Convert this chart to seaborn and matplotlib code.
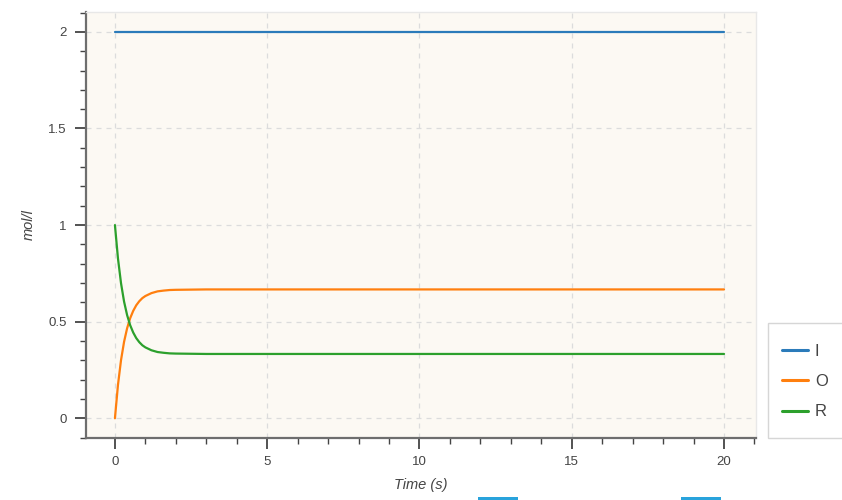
import matplotlib
matplotlib.use("Agg")
import matplotlib.pyplot as plt
from matplotlib.ticker import FixedLocator, MultipleLocator, FixedFormatter
from matplotlib.patches import Rectangle
import seaborn as sns
import pandas as pd

# Species concentrations over time (mol/l)
time_I = [0.0, 20.0]
conc_I = [2.0, 2.0]

time_OR = [0.0, 0.1, 0.2, 0.3, 0.4, 0.5, 0.6, 0.7, 0.8, 0.9, 1.0,
           1.2, 1.4, 1.6, 1.8, 2.0, 2.5, 3.0, 20.0]
conc_O = [0.0, 0.173, 0.301, 0.396, 0.466, 0.518, 0.556, 0.585, 0.606, 0.622, 0.633,
          0.648, 0.657, 0.661, 0.664, 0.665, 0.666, 0.667, 0.667]
conc_R = [1.0, 0.827, 0.699, 0.604, 0.534, 0.482, 0.444, 0.415, 0.394, 0.378, 0.367,
          0.352, 0.343, 0.339, 0.336, 0.335, 0.334, 0.333, 0.333]

species = ["I", "O", "R"]
colors = ["#2b7bba", "#ff7f0e", "#2ca02c"]

x_ticks = [0, 5, 10, 15, 20]
x_tick_labels = ["0", "5", "10", "15", "20"]
y_ticks = [0, 0.5, 1, 1.5, 2]
y_tick_labels = ["0", "0.5", "1", "1.5", "2"]

df = pd.concat([
    pd.DataFrame({"t": time_I, "c": conc_I, "species": "I"}),
    pd.DataFrame({"t": time_OR, "c": conc_O, "species": "O"}),
    pd.DataFrame({"t": time_OR, "c": conc_R, "species": "R"}),
], ignore_index=True)

sns.set_style("white")
plt.rcParams["font.family"] = ["Liberation Sans", "DejaVu Sans"]

W, H = 842, 500
fig = plt.figure(figsize=(W / 100, H / 100), dpi=100)
fig.patch.set_facecolor("white")
ax = fig.add_axes([86 / W, 1 - 438 / H, (756 - 86) / W, (438 - 12) / H])
ax.set_facecolor("#fcf9f3")

sns.lineplot(data=df, x="t", y="c", hue="species", hue_order=species,
             palette=colors, linewidth=1.6, ax=ax, legend=False,
             estimator=None, sort=False)

ax.set_xlim(-0.95, 21.05)
ax.set_ylim(-0.102, 2.103)

ax.xaxis.set_major_locator(FixedLocator(x_ticks))
ax.xaxis.set_major_formatter(FixedFormatter(x_tick_labels))
ax.xaxis.set_minor_locator(MultipleLocator(1))
ax.yaxis.set_major_locator(FixedLocator(y_ticks))
ax.yaxis.set_major_formatter(FixedFormatter(y_tick_labels))
ax.yaxis.set_minor_locator(MultipleLocator(0.1))

ax.grid(True, which="major", color="#dcdcdc", linestyle=(0, (4, 4)), linewidth=0.9)
ax.set_axisbelow(True)

for side in ["left", "bottom"]:
    ax.spines[side].set_color("#6e6e6e")
    ax.spines[side].set_linewidth(1.6)
for side in ["top", "right"]:
    ax.spines[side].set_color("#e8e8e8")
    ax.spines[side].set_linewidth(1.0)

ax.tick_params(which="both", bottom=True, left=True, top=False, right=False)
ax.tick_params(which="major", direction="out", length=8, width=1.3,
               color="#444444", labelsize=9.5, labelcolor="#444444")
ax.tick_params(which="minor", direction="out", length=4.5, width=1.0, color="#444444")
ax.tick_params(axis="x", which="major", pad=5)
ax.tick_params(axis="y", which="major", pad=6)

ax.set_xlabel("Time (s)", fontsize=10.5, style="italic", color="#444444", labelpad=7)
ax.set_ylabel("mol/l", fontsize=10.5, style="italic", color="#444444", labelpad=9)

# Legend placed to the right of the plot area
handles = [plt.Line2D([], [], color=c, linewidth=2.2) for c in colors]
leg = fig.legend(handles, species, loc="upper left",
                 bbox_to_anchor=(760 / W, 1 - 322 / H), bbox_transform=fig.transFigure,
                 frameon=False, fontsize=12, handlelength=1.55, handletextpad=0.45,
                 labelspacing=0.92, borderpad=1.3, borderaxespad=0)
for t in leg.get_texts():
    t.set_color("#444444")
fig.patches.append(Rectangle((768 / W, 1 - 438 / H), 100 / W, 115 / H,
                             transform=fig.transFigure, facecolor="white",
                             edgecolor="#d6d6d6", linewidth=1.0, zorder=0))

# Small accent bars along the bottom edge
for x0 in [478, 681]:
    fig.patches.append(Rectangle((x0 / W, 0), 40 / W, 3 / H,
                                 transform=fig.transFigure, facecolor="#29a3dc",
                                 edgecolor="none"))

fig.savefig("out.png", dpi=100)
